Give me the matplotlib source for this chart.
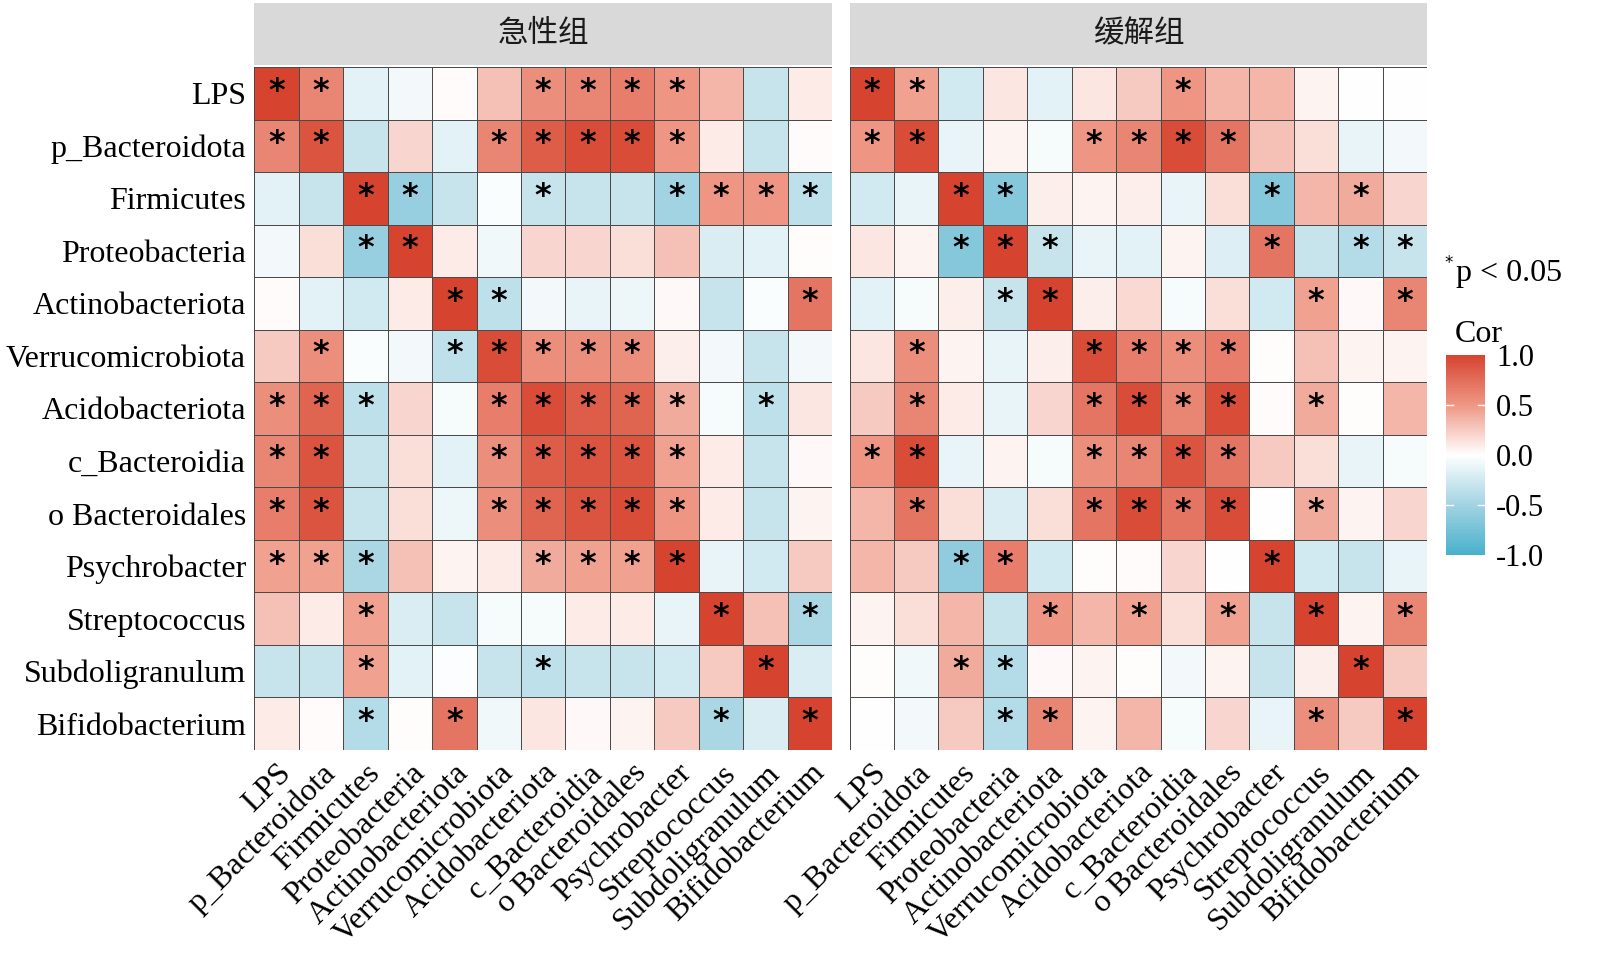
import numpy as np
import matplotlib
matplotlib.use("Agg")
import matplotlib.pyplot as plt
from matplotlib.colors import LinearSegmentedColormap, Normalize

plt.rcParams['font.family'] = ['Liberation Serif', 'Noto Sans CJK SC']

taxa = ["LPS", "p_Bacteroidota", "Firmicutes", "Proteobacteria", "Actinobacteriota",
        "Verrucomicrobiota", "Acidobacteriota", "c_Bacteroidia", "o Bacteroidales",
        "Psychrobacter", "Streptococcus", "Subdoligranulum", "Bifidobacterium"]
groups = ["急性组", "缓解组"]

# correlation values, acute group (rows = taxa, cols = taxa)
cor_acute = [
    [1.0, 0.6, -0.15, -0.07, 0.02, 0.3, 0.55, 0.6, 0.65, 0.5, 0.35, -0.3, 0.1],
    [0.6, 0.9, -0.3, 0.2, -0.15, 0.6, 0.85, 0.95, 0.95, 0.5, 0.1, -0.3, 0.02],
    [-0.15, -0.3, 1.0, -0.55, -0.3, -0.03, -0.3, -0.3, -0.3, -0.5, 0.5, 0.5, -0.35],
    [-0.07, 0.15, -0.55, 1.0, 0.1, -0.08, 0.2, 0.2, 0.15, 0.3, -0.2, -0.15, 0.01],
    [0.02, -0.15, -0.25, 0.1, 1.0, -0.35, -0.07, -0.12, -0.1, 0.03, -0.3, -0.03, 0.7],
    [0.25, 0.55, -0.03, -0.07, -0.35, 0.95, 0.55, 0.55, 0.55, 0.08, -0.07, -0.3, -0.07],
    [0.55, 0.8, -0.35, 0.2, -0.05, 0.65, 0.95, 0.85, 0.8, 0.4, -0.05, -0.35, 0.12],
    [0.6, 0.9, -0.3, 0.15, -0.15, 0.55, 0.85, 0.9, 0.9, 0.45, 0.1, -0.3, 0.03],
    [0.65, 0.9, -0.3, 0.15, -0.1, 0.55, 0.8, 0.9, 0.95, 0.5, 0.1, -0.3, 0.05],
    [0.45, 0.45, -0.45, 0.3, 0.05, 0.1, 0.4, 0.45, 0.45, 1.0, -0.12, -0.25, 0.25],
    [0.3, 0.1, 0.45, -0.2, -0.3, -0.05, -0.05, 0.1, 0.1, -0.12, 1.0, 0.3, -0.45],
    [-0.3, -0.3, 0.45, -0.15, -0.02, -0.3, -0.35, -0.3, -0.3, -0.25, 0.25, 1.0, -0.2],
    [0.1, 0.02, -0.4, 0.01, 0.7, -0.08, 0.12, 0.03, 0.06, 0.25, -0.45, -0.2, 1.0],
]
sig_acute = [
    [1, 1, 0, 0, 0, 0, 1, 1, 1, 1, 0, 0, 0],
    [1, 1, 0, 0, 0, 1, 1, 1, 1, 1, 0, 0, 0],
    [0, 0, 1, 1, 0, 0, 1, 0, 0, 1, 1, 1, 1],
    [0, 0, 1, 1, 0, 0, 0, 0, 0, 0, 0, 0, 0],
    [0, 0, 0, 0, 1, 1, 0, 0, 0, 0, 0, 0, 1],
    [0, 1, 0, 0, 1, 1, 1, 1, 1, 0, 0, 0, 0],
    [1, 1, 1, 0, 0, 1, 1, 1, 1, 1, 0, 1, 0],
    [1, 1, 0, 0, 0, 1, 1, 1, 1, 1, 0, 0, 0],
    [1, 1, 0, 0, 0, 1, 1, 1, 1, 1, 0, 0, 0],
    [1, 1, 1, 0, 0, 0, 1, 1, 1, 1, 0, 0, 0],
    [0, 0, 1, 0, 0, 0, 0, 0, 0, 0, 1, 0, 1],
    [0, 0, 1, 0, 0, 0, 1, 0, 0, 0, 0, 1, 0],
    [0, 0, 1, 0, 1, 0, 0, 0, 0, 0, 1, 0, 1],
]

# correlation values, remission group
cor_remit = [
    [1.0, 0.45, -0.25, 0.12, -0.15, 0.12, 0.25, 0.5, 0.35, 0.35, 0.06, 0.0, 0.0],
    [0.5, 0.95, -0.12, 0.05, -0.05, 0.5, 0.6, 0.95, 0.7, 0.3, 0.15, -0.12, -0.07],
    [-0.25, -0.12, 1.0, -0.65, 0.08, 0.05, 0.08, -0.12, 0.15, -0.65, 0.35, 0.4, 0.2],
    [0.12, 0.06, -0.65, 1.0, -0.3, -0.12, -0.15, 0.06, -0.18, 0.7, -0.3, -0.4, -0.3],
    [-0.15, -0.05, 0.08, -0.3, 1.0, 0.08, 0.18, -0.05, 0.15, -0.25, 0.45, 0.03, 0.6],
    [0.12, 0.55, 0.06, -0.12, 0.08, 0.95, 0.65, 0.55, 0.65, 0.01, 0.3, 0.05, 0.05],
    [0.25, 0.6, 0.1, -0.12, 0.2, 0.7, 0.95, 0.6, 0.95, 0.02, 0.4, 0.01, 0.35],
    [0.5, 0.95, -0.12, 0.05, -0.05, 0.55, 0.6, 0.9, 0.7, 0.25, 0.15, -0.12, -0.05],
    [0.35, 0.7, 0.15, -0.2, 0.15, 0.7, 0.95, 0.7, 0.95, 0.0, 0.4, 0.05, 0.2],
    [0.35, 0.25, -0.6, 0.65, -0.25, 0.01, 0.02, 0.2, 0.0, 1.0, -0.25, -0.3, -0.12],
    [0.06, 0.15, 0.35, -0.3, 0.5, 0.35, 0.45, 0.15, 0.45, -0.3, 1.0, 0.05, 0.6],
    [0.01, -0.08, 0.4, -0.4, 0.03, 0.05, 0.01, -0.07, 0.05, -0.3, 0.08, 1.0, 0.25],
    [0.0, -0.07, 0.25, -0.4, 0.6, 0.05, 0.35, -0.05, 0.2, -0.12, 0.55, 0.25, 1.0],
]
sig_remit = [
    [1, 1, 0, 0, 0, 0, 0, 1, 0, 0, 0, 0, 0],
    [1, 1, 0, 0, 0, 1, 1, 1, 1, 0, 0, 0, 0],
    [0, 0, 1, 1, 0, 0, 0, 0, 0, 1, 0, 1, 0],
    [0, 0, 1, 1, 1, 0, 0, 0, 0, 1, 0, 1, 1],
    [0, 0, 0, 1, 1, 0, 0, 0, 0, 0, 1, 0, 1],
    [0, 1, 0, 0, 0, 1, 1, 1, 1, 0, 0, 0, 0],
    [0, 1, 0, 0, 0, 1, 1, 1, 1, 0, 1, 0, 0],
    [1, 1, 0, 0, 0, 1, 1, 1, 1, 0, 0, 0, 0],
    [0, 1, 0, 0, 0, 1, 1, 1, 1, 0, 1, 0, 0],
    [0, 0, 1, 1, 0, 0, 0, 0, 0, 1, 0, 0, 0],
    [0, 0, 0, 0, 1, 0, 1, 0, 1, 0, 1, 0, 1],
    [0, 0, 1, 1, 0, 0, 0, 0, 0, 0, 0, 1, 0],
    [0, 0, 0, 1, 1, 0, 0, 0, 0, 0, 1, 0, 1],
]

# gradient2-like scale (blue - white - red), with midpoints to mimic Lab interpolation
cmap = LinearSegmentedColormap.from_list(
    "cor", [(0.0, "#48B0CC"), (0.25, "#A2D3E2"), (0.5, "#FFFFFF"),
            (0.75, "#EE9784"), (1.0, "#D64430")])
norm = Normalize(-1, 1)

fig = plt.figure(figsize=(16, 9.64), dpi=100)

n = len(taxa)
panels = [(0.159, cor_acute, sig_acute), (0.531, cor_remit, sig_remit)]
for k, (left, cor, sig) in enumerate(panels):
    ax = fig.add_axes([left, 0.222, 0.361, 0.7085])
    ax.pcolormesh(np.array(cor), cmap=cmap, norm=norm, edgecolors="#4a4a4a", linewidth=0.6)
    for i in range(n):
        for j in range(n):
            if sig[i][j]:
                ax.text(j + 0.5, i + 0.46, "*", ha="center", va="center", fontsize=23,
                        family="DejaVu Sans", fontweight="bold", color="black")
    ax.set_xlim(0, n)
    ax.set_ylim(n, 0)
    ax.set_xticks(np.arange(n) + 0.5)
    ax.set_xticklabels(taxa, rotation=45, ha="right", rotation_mode="anchor", fontsize=23)
    ax.set_yticks(np.arange(n) + 0.5)
    if k == 0:
        ax.set_yticklabels(taxa, fontsize=23)
    else:
        ax.set_yticklabels([])
    ax.tick_params(length=0, pad=6)
    for s in ax.spines.values():
        s.set_visible(False)

    # facet strip
    strip = fig.add_axes([left, 0.933, 0.361, 0.064])
    strip.set_facecolor("#D9D9D9")
    strip.set_xticks([])
    strip.set_yticks([])
    for s in strip.spines.values():
        s.set_visible(False)
    strip.text(0.5, 0.5, groups[k], ha="center", va="center", fontsize=22,
               family="Noto Sans CJK SC", color="#1a1a1a")

# significance note
fig.text(0.903, 0.718, "*", fontsize=12, family="DejaVu Sans", ha="left", va="bottom")
fig.text(0.910, 0.716, "p < 0.05", fontsize=23, ha="left", va="center")

# colorbar
cax = fig.add_axes([0.904, 0.424, 0.024, 0.208])
cb = fig.colorbar(plt.cm.ScalarMappable(norm=norm, cmap=cmap), cax=cax)
cb.set_ticks([1.0, 0.5, 0.0, -0.5, -1.0])
cb.set_ticklabels(["1.0", "0.5", "0.0", "-0.5", "-1.0"])
cb.ax.tick_params(labelsize=22, length=0, pad=8)
cb.outline.set_visible(False)
for t in [0.5, -0.5]:
    cax.plot([0, 0.18], [t, t], color="white", lw=1)
    cax.plot([0.82, 1], [t, t], color="white", lw=1)
fig.text(0.924, 0.653, "Cor", fontsize=23, ha="center", va="center")

fig.savefig("out.png", dpi=100)
